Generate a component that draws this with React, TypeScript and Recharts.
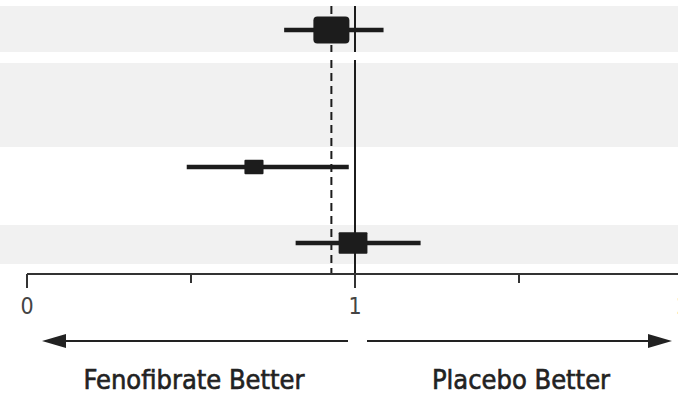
import React from "react";
import {
  ReferenceArea,
  ReferenceLine,
  Scatter,
  ScatterChart,
  XAxis,
  YAxis,
} from "recharts";

// row positions are in "line" units from the top of the plot
const rowPos = [1.2, 8.05, 11.85];
const estimate = [0.928, 0.692, 0.994];
const ciLow = [0.784, 0.487, 0.819];
const ciHigh = [1.087, 0.981, 1.2];
const weight = [1, 0.53, 0.8];

const bandStart = [0, 2.85, 10.95];
const bandEnd = [2.3, 7.05, 12.9];

const overall = 0.928;
const noEffect = 1;
const lineBreak = [2.3, 2.7];

const xTicks = [0, 0.5, 1, 1.5, 2];
const labeledTicks = [0, 1, 2];
const sideLabels = ["Fenofibrate Better", "Placebo Better"];

const points = rowPos.map((y, i) => ({ x: estimate[i], y, w: weight[i] }));

const FONT = '"Liberation Sans Narrow", "DejaVu Sans Condensed", sans-serif';
const INK = "#1c1c1c";

const Box = (props: any) => {
  const { cx, cy, payload } = props;
  const w = 36 * payload.w;
  const h = 27 * payload.w;
  return (
    <rect
      x={cx - w / 2}
      y={cy - h / 2}
      width={w}
      height={h}
      rx={payload.w > 0.9 ? 4 : 1}
      fill={INK}
    />
  );
};

const AxisTick = (props: any) => {
  const { x, y, payload } = props;
  const major = labeledTicks.includes(payload.value);
  return (
    <g>
      <line x1={x} x2={x} y1={y} y2={y + (major ? 14 : 9)} stroke="#333" strokeWidth={2} />
      {major && (
        <text x={x} y={y + 40} textAnchor="middle" fontFamily={FONT} fontSize={23} fill="#444">
          {payload.value}
        </text>
      )}
    </g>
  );
};

export default function App() {
  const top = 0;
  const bottom = 13.4;
  return (
    <div style={{ position: "fixed", left: 0, top: 0, width: 678, height: 396, overflow: "hidden", background: "#fff" }}>
      <ScatterChart width={683} height={396} margin={{ top: 6, right: 0, left: 27, bottom: 92 }}>
        <XAxis
          type="number"
          dataKey="x"
          domain={[0, 2]}
          ticks={xTicks}
          interval={0}
          tickLine={false}
          tickSize={0}
          tickMargin={0}
          height={30}
          axisLine={{ stroke: "#333", strokeWidth: 2 }}
          tick={(p: any) => <AxisTick {...p} />}
        />
        <YAxis type="number" dataKey="y" domain={[top, bottom]} reversed hide allowDataOverflow />
        {bandStart.map((s, i) => (
          <ReferenceArea
            key={"b" + i}
            x1={-0.09}
            x2={2}
            y1={s}
            y2={bandEnd[i]}
            ifOverflow="visible"
            fill="#f1f1f1"
            fillOpacity={1}
            stroke="none"
          />
        ))}
        {[[top, lineBreak[0]], [lineBreak[1], bottom]].map(([a, b], i) => (
          <ReferenceLine
            key={"d" + i}
            segment={[{ x: overall, y: a }, { x: overall, y: b }]}
            stroke={INK}
            strokeWidth={2}
            strokeDasharray="8 5"
          />
        ))}
        {[[top, lineBreak[0]], [lineBreak[1], bottom]].map(([a, b], i) => (
          <ReferenceLine
            key={"s" + i}
            segment={[{ x: noEffect, y: a }, { x: noEffect, y: b }]}
            stroke={INK}
            strokeWidth={2}
          />
        ))}
        {rowPos.map((y, i) => (
          <ReferenceLine
            key={"ci" + i}
            segment={[{ x: ciLow[i], y }, { x: ciHigh[i], y }]}
            stroke={INK}
            strokeWidth={4.5}
          />
        ))}
        <Scatter data={points} shape={<Box />} isAnimationActive={false} />
        <g>
          <line x1={62} x2={348} y1={341} y2={341} stroke="#222" strokeWidth={2} />
          <polygon points="42,341 66,334 66,348" fill="#222" />
          <line x1={367} x2={652} y1={341} y2={341} stroke="#222" strokeWidth={2} />
          <polygon points="672,341 648,334 648,348" fill="#222" />
          <text x={194} y={389} textAnchor="middle" fontFamily={FONT} fontSize={27} fill="#222" stroke="#222" strokeWidth={0.6}>
            {sideLabels[0]}
          </text>
          <text x={521} y={389} textAnchor="middle" fontFamily={FONT} fontSize={27} fill="#222" stroke="#222" strokeWidth={0.6}>
            {sideLabels[1]}
          </text>
        </g>
      </ScatterChart>
    </div>
  );
}
